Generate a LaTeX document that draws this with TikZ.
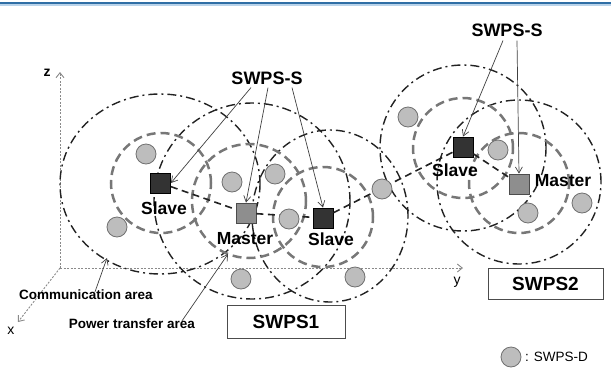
\documentclass[tikz,border=0pt]{standalone}
\usepackage{fontspec}
\setmainfont{Liberation Sans}
\usetikzlibrary{arrows.meta,calc}
\definecolor{ink}{HTML}{222222}
\definecolor{axisgray}{HTML}{8A8A8A}
\definecolor{powergray}{HTML}{777777}
\definecolor{devfill}{HTML}{BDBDBD}
\definecolor{devline}{HTML}{707070}
\definecolor{slavefill}{HTML}{333333}
\definecolor{masterfill}{HTML}{8E8E8E}
\definecolor{rulecol}{HTML}{2F6EA5}
\definecolor{rulelight}{HTML}{B9D3EA}
\tikzset{
  comm/.style={draw=ink, line width=1.4pt, dash pattern=on 9pt off 4pt on 2pt off 4pt},
  power/.style={draw=powergray, line width=2.5pt, dash pattern=on 9pt off 5pt},
  link/.style={draw=ink, line width=1.6pt, dash pattern=on 7pt off 4.5pt},
  axis/.style={draw=axisgray, line width=0.9pt, dash pattern=on 2pt off 1.5pt,
    -{Straight Barb[length=5pt,width=8pt,line width=0.9pt]}},
  device/.style={circle, draw=devline, fill=devfill, line width=0.8pt, minimum size=20pt, inner sep=0pt},
  slavebox/.style={rectangle, draw=black, fill=slavefill, line width=0.8pt, minimum size=20pt, inner sep=0pt},
  masterbox/.style={rectangle, draw=black!70, fill=masterfill, line width=0.8pt, minimum size=20pt, inner sep=0pt},
  rolelabel/.style={font=\fontsize{17.5}{17.5}\selectfont\bfseries, inner sep=0pt},
  taglabel/.style={font=\fontsize{18}{18}\selectfont\bfseries, inner sep=0pt},
  arealabel/.style={font=\fontsize{13.5}{13.5}\selectfont\bfseries, inner sep=0pt},
  pointer/.style={draw=black!75, line width=0.7pt, -{Straight Barb[length=6pt,width=7pt,line width=0.7pt]}},
  groupbox/.style={draw=black!70, line width=0.8pt, fill=white, minimum width=118pt, minimum height=33pt,
    font=\fontsize{19}{19}\selectfont\bfseries}
}
\begin{document}
\begin{tikzpicture}[x=1pt,y=-1pt]
\useasboundingbox (0,0) rectangle (611,373);

% page rule along the top edge
\fill[rulelight] (0,3.5) rectangle (611,6);
\draw[rulecol, line width=1.4pt] (0,2.8) -- (611,2.8);

% coordinate axes
\coordinate (O) at (60,268);
\coordinate (zend) at (60,72);
\coordinate (yend) at (463,268);
\coordinate (xend) at (18,322);
\draw[axis] (O) -- (zend);
\draw[axis] (O) -- (yend);
\draw[axis] (O) -- (xend);
\node[font=\fontsize{14}{14}\selectfont\bfseries] (zl) at (47,73) {z};
\node[font=\fontsize{14}{14}\selectfont] (yl) at (457,282) {y};
\node[font=\fontsize{14}{14}\selectfont] (xl) at (11,331) {x};

% communication areas
\draw[comm] (160,184) ellipse [x radius=100pt, y radius=90pt];
\draw[comm] (252,201) circle [radius=98pt];
\draw[comm] (330,216) ellipse [x radius=78pt, y radius=86pt];
\draw[comm] (463,148) circle [radius=83pt];
\draw[comm] (519,182) circle [radius=82pt];

% power transfer areas
\draw[power] (161,183) circle [radius=50pt];
\draw[power] (249,201) circle [radius=57pt];
\draw[power] (323,217) circle [radius=50pt];
\draw[power] (463,148) circle [radius=50pt];
\draw[power] (519,183) circle [radius=50pt];

% master / slave stations
\node[slavebox] (s1) at (160.5,183) {};
\node[masterbox] (m1) at (246,213) {};
\node[slavebox] (s2) at (323,218) {};
\node[slavebox] (s3) at (463,147) {};
\node[masterbox] (m2) at (519,184) {};

% links between stations
\draw[link] (s1) -- (m1);
\draw[link] (m1) -- (s2);
\draw[link] (s2) -- (s3);
\draw[link] (s3) -- (m2);

% SWPS-D devices
\node[device] (d1) at (146,154) {};
\node[device] (d2) at (117,227) {};
\node[device] (d3) at (232,182) {};
\node[device] (d4) at (275,174) {};
\node[device] (d5) at (241,279) {};
\node[device] (d6) at (289,219) {};
\node[device] (d7) at (382,189) {};
\node[device] (d8) at (355,277) {};
\node[device] (d9) at (408,117) {};
\node[device] (d10) at (498,150) {};
\node[device] (d11) at (528,213) {};
\node[device] (d12) at (582,203) {};

% station labels
\node[rolelabel] (ls1) at (164,208) {Slave};
\node[rolelabel] (lm1) at (245,239) {Master};
\node[rolelabel] (ls2) at (331,239) {Slave};
\node[rolelabel] (ls3) at (455,170) {Slave};
\node[rolelabel] (lm2) at (563,181) {Master};

% SWPS-S callouts
\node[taglabel] (tagA) at (267,78) {SWPS-S};
\node[taglabel] (tagB) at (507,30) {SWPS-S};
\draw[pointer] ([xshift=-16pt,yshift=-3pt]tagA.south) -- (s1.east);
\draw[pointer] ([xshift=1pt,yshift=-3pt]tagA.south) -- (m1.north);
\draw[pointer] ([xshift=25pt,yshift=-3pt]tagA.south) -- (s2.north);
\draw[pointer] ([xshift=-4pt,yshift=-4pt]tagB.south) -- (s3.north);
\draw[pointer] ([xshift=10pt,yshift=-4pt]tagB.south) -- (m2.north);

% area callouts
\node[arealabel] (commlab) at (86,295) {Communication area};
\node[arealabel] (powlab) at (132,324) {Power transfer area};
\coordinate (commpt) at (107,258);
\coordinate (powpt) at (228,254);
\draw[pointer] ([xshift=9pt,yshift=-2pt]commlab.north) -- (commpt);
\draw[pointer] ([xshift=50pt,yshift=-2pt]powlab.north) -- (powpt);

% group boxes
\node[groupbox] (g1) at (286,321.5) {SWPS1};
\node[groupbox, minimum width=115pt, minimum height=31pt] (g2) at (545.5,283.5) {SWPS2};

% legend
\node[device] (legdev) at (511,357) {};
\node[font=\fontsize{13.5}{13.5}\selectfont, anchor=west, inner sep=0pt] (legtxt) at (525,357) {: SWPS-D};
\end{tikzpicture}
\end{document}
